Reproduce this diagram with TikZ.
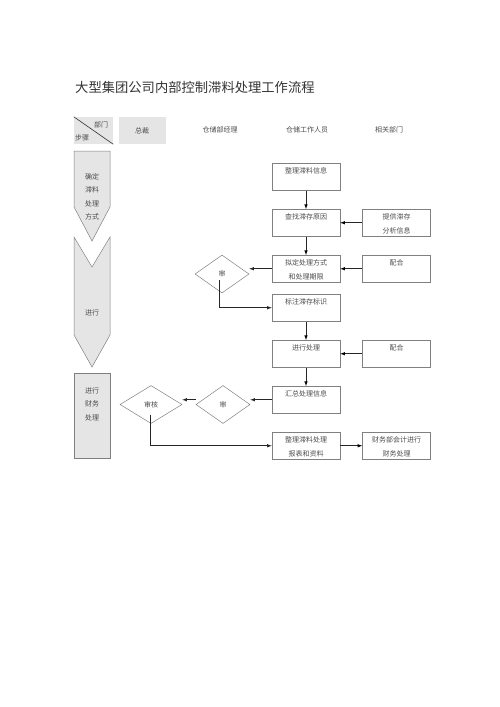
\documentclass[tikz,border=0pt]{standalone}
\usepackage{fontspec}
\setmainfont{Noto Sans CJK SC}
\usetikzlibrary{shapes.geometric}
\definecolor{linegray}{rgb}{0.5,0.5,0.5}
\definecolor{cellgray}{rgb}{0.9,0.9,0.9}
\definecolor{textgray}{rgb}{0.3,0.3,0.3}
\tikzset{flow/.style = {->, > = latex, draw=black!85, line width=0.6pt}}
\tikzset{stepbox/.style = {draw=linegray, fill=cellgray, line width=0.5pt}}
\tikzset{headcell/.style = {fill=cellgray, minimum height=27pt, inner sep=0pt}}
\tikzset{task/.style = {draw=linegray, line width=0.5pt, inner sep=3pt, anchor=north}}
\tikzset{check/.style = {diamond, draw=linegray, line width=0.5pt, inner sep=0pt, minimum width=54pt, minimum height=38pt}}
\newcommand{\boxtxt}[1]{\parbox[c][21pt][t]{62pt}{\centering\rule{0pt}{7.5pt}#1}}

\begin{document}
\begin{tikzpicture}[x=1pt, y=-1pt, font=\fontsize{7}{13.5}\selectfont, text=textgray]
	\useasboundingbox (0,0) rectangle (500,707);
	\node[anchor=west, inner sep=0pt, font=\fontsize{13.3}{16}\selectfont, text=black!80] (title) at (75,87) {大型集团公司内部控制滞料处理工作流程};
	% header row
	\node[headcell, minimum width=39pt] (corner) at (93.5,130.5) {};
	\draw[black!80, line width=0.6pt] (corner.north west) -- (corner.south east);
	\node (dept) at (101,124.5) {部门};
	\node (step) at (82,137.5) {步骤};
	\node[headcell, minimum width=47pt] (boss) at (142,130.5) {总裁};
	\node (mgr) at (220,130) {仓储部经理};
	\node (staff) at (307,130) {仓储工作人员};
	\node (rel) at (389,130) {相关部门};
	% step column
	\filldraw[stepbox] (74,151) -- (110,151) -- (110,207) -- (92,241) -- (74,207) -- cycle;
	\node[align=center] (s1) at (92,197) {确定\\滞料\\处理\\方式};
	\filldraw[stepbox] (74,237) -- (92,267) -- (110,237) -- (110,335) -- (92,367) -- (74,335) -- cycle;
	\node (s2) at (92,313) {进行};
	\node[stepbox, minimum width=36pt, minimum height=85pt] (s3box) at (92,415.5) {};
	\node[align=center] (s3) at (92,404) {进行\\财务\\处理};
	% tasks
	\node[task] (zl) at (306,163) {\boxtxt{整理滞料信息}};
	\node[task] (cz) at (306,209) {\boxtxt{查找滞存原因}};
	\node[task] (tg) at (396.5,209) {\boxtxt{提供滞存\\分析信息}};
	\node[task] (nd) at (306,255) {\boxtxt{拟定处理方式\\和处理期限}};
	\node[task] (ph1) at (396.5,255) {\boxtxt{配合}};
	\node[task] (bz) at (306,294) {\boxtxt{标注滞存标识}};
	\node[task] (jx) at (306,340) {\boxtxt{进行处理}};
	\node[task] (ph2) at (396.5,340) {\boxtxt{配合}};
	\node[task] (hz) at (306,386) {\boxtxt{汇总处理信息}};
	\node[task] (bb) at (306,432) {\boxtxt{整理滞料处理\\报表和资料}};
	\node[task] (cw) at (396.5,432) {\boxtxt{财务部会计进行\\财务处理}};
	% checks
	\node[check] (sh1) at (222,274) {审};
	\node[check] (sh2) at (223,404.5) {审};
	\node[check, minimum width=62pt] (shh) at (151,404.5) {审核};
	% arrows
	\path [flow] (zl) edge (cz);
	\path [flow] (cz) edge (nd);
	\path [flow] (tg) edge (cz);
	\path [flow] (ph1) edge (nd);
	\draw [flow] (nd.west) -- (nd.west -| sh1.east);
	\draw [flow] ([shift={(-3,6)}]sh1.center) |- (bz.west);
	\path [flow] (bz) edge (jx);
	\path [flow] (ph2) edge (jx);
	\path [flow] (jx) edge (hz);
	\draw [flow] (hz.west) -- (hz.west -| sh2.east);
	\draw [flow] (hz.west -| sh2.west) -- (hz.west -| shh.east);
	\draw [flow] ([shift={(-1,10)}]shh.center) |- (bb.west);
	\path [flow] (bb) edge (cw);
\end{tikzpicture}
\end{document}
